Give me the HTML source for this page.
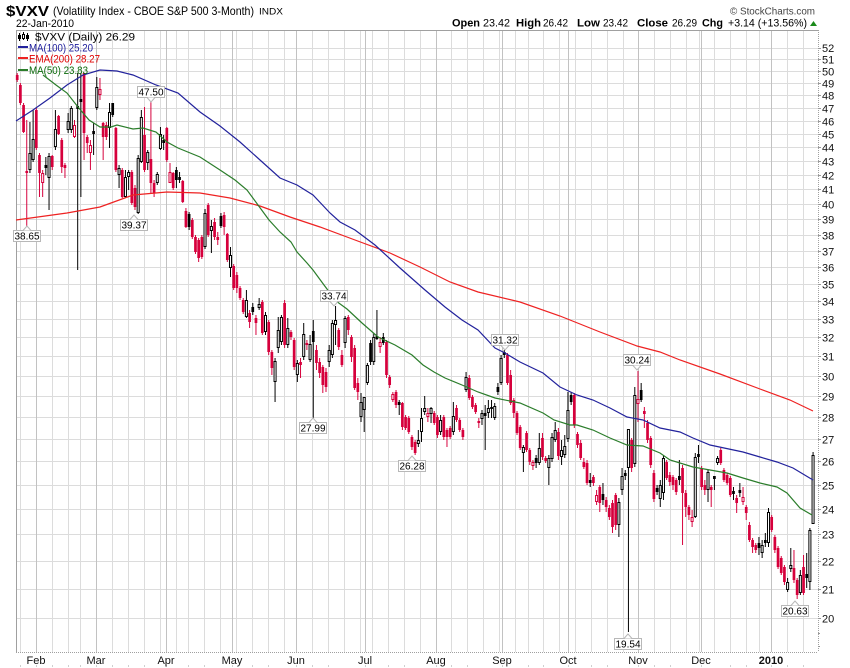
<!DOCTYPE html>
<html><head><meta charset="utf-8"><style>
html,body{margin:0;padding:0;background:#fff;}
svg{display:block;}
text{font-family:"Liberation Sans",Arial,sans-serif;}
</style></head><body>
<svg width="850" height="668" viewBox="0 0 850 668" xmlns="http://www.w3.org/2000/svg">
<rect width="850" height="668" fill="#fff"/>

<!-- horizontal grid -->
<path stroke="#dcdcdc" stroke-width="1" fill="none" d="M16 48.5H818M16 59.5H818M16 71.5H818M16 83.5H818M16 95.5H818M16 108.5H818M16 121.5H818M16 134.5H818M16 147.5H818M16 161.5H818M16 175.5H818M16 189.5H818M16 204.5H818M16 219.5H818M16 235.5H818M16 251.5H818M16 267.5H818M16 284.5H818M16 301.5H818M16 319.5H818M16 337.5H818M16 356.5H818M16 376.5H818M16 396.5H818M16 417.5H818M16 439.5H818M16 461.5H818M16 485.5H818M16 509.5H818M16 534.5H818M16 561.5H818M16 589.5H818M16 618.5H818"/>
<!-- weekly grid -->
<path stroke="#dcdcdc" stroke-width="1" fill="none" d="M20.5 30V652M52.5 30V652M68.5 30V652M80.5 30V652M112.5 30V652M128.5 30V652M144.5 30V652M160.5 30V652M176.5 30V652M188.5 30V652M204.5 30V652M220.5 30V652M236.5 30V652M252.5 30V652M268.5 30V652M284.5 30V652M312.5 30V652M328.5 30V652M344.5 30V652M360.5 30V652M372.5 30V652M388.5 30V652M404.5 30V652M420.5 30V652M451.5 30V652M467.5 30V652M483.5 30V652M499.5 30V652M515.5 30V652M528.5 30V652M543.5 30V652M559.5 30V652M575.5 30V652M591.5 30V652M607.5 30V652M623.5 30V652M654.5 30V652M670.5 30V652M686.5 30V652M699.5 30V652M714.5 30V652M730.5 30V652M746.5 30V652M759.5 30V652M787.5 30V652M803.5 30V652"/>
<!-- month grid -->
<path stroke="#c2c2c2" stroke-width="1" fill="none" d="M36.5 30V652M96.5 30V652M166.5 30V652M232.5 30V652M296.5 30V652M365.5 30V652M436.5 30V652M502.5 30V652M568.5 30V652M638.5 30V652M701.5 30V652M771.5 30V652"/>

<!-- frame -->
<path stroke="#a0a0a0" stroke-width="1" fill="none" d="M16.5 652V30.5H818"/>
<path stroke="#a0a0a0" stroke-width="1" fill="none" stroke-dasharray="1,1" d="M818.5 30V652M16 652.5H818"/>
<!-- right ticks -->
<path stroke="#999" stroke-width="1" fill="none" d="M818 48.5h3M818 59.5h3M818 71.5h3M818 83.5h3M818 95.5h3M818 108.5h3M818 121.5h3M818 134.5h3M818 147.5h3M818 161.5h3M818 175.5h3M818 189.5h3M818 204.5h3M818 219.5h3M818 235.5h3M818 251.5h3M818 267.5h3M818 284.5h3M818 301.5h3M818 319.5h3M818 337.5h3M818 356.5h3M818 376.5h3M818 396.5h3M818 417.5h3M818 439.5h3M818 461.5h3M818 485.5h3M818 509.5h3M818 534.5h3M818 561.5h3M818 589.5h3M818 618.5h3M818 633.5h2M818 646.5h2"/>
<!-- bottom small marks -->
<path stroke="#cfcfcf" stroke-width="1" fill="none" d="M20.5 665v2M36.5 665v2M52.5 665v2M68.5 665v2M80.5 665v2M96.5 665v2M112.5 665v2M128.5 665v2M144.5 665v2M166.5 665v2M188.5 665v2M204.5 665v2M232.5 665v2M252.5 665v2M268.5 665v2M296.5 665v2M312.5 665v2M328.5 665v2M365.5 665v2M388.5 665v2M404.5 665v2M436.5 665v2M451.5 665v2M467.5 665v2M502.5 665v2M528.5 665v2M543.5 665v2M568.5 665v2M591.5 665v2M607.5 665v2M638.5 665v2M654.5 665v2M670.5 665v2M701.5 665v2M730.5 665v2M746.5 665v2M771.5 665v2M787.5 665v2M803.5 665v2"/>

<!-- candles -->
<g transform="translate(17.2 0) scale(3.1835 1)" fill="none" stroke-linecap="butt">
<path stroke="#d6003c" stroke-width="0.31" d="M0 73V82M1 83V105M2 103V133M3 120V227M6 108V150M7 153V197M8 170V197M11 155V170M13 115V135M14 138V173M15 163V178M18 120V138M21 73V160M22 135V153M23 140V170M26 78V100M27 122V160M28 122V140M31 127V172M33 168V198M36 170V205M37 185V210M40 107V172M42 102V193M43 180V197M47 127V162M48 163V183M49 172V190M52 180V203M53 208V228M55 218V239M56 235V254M57 238V262M58 235V259M60 203V237M62 218V240M63 232V245M65 212V235M66 233V262M68 264V290M69 272V293M70 286V300M71 298V314M73 310V328M75 315V335M77 300V335M79 320V355M80 350V375M84 300V348M86 330V340M87 338V370M89 358V378M91 340V350M94 345V370M95 358V378M96 365V393M97 368V392M101 328V350M102 350V367M104 315V335M105 335V362M106 345V390M107 378V400M114 337V353M116 340V378M117 375V388M118 392V402M119 390V408M121 402V430M122 415V430M123 416V434M124 435V450M125 440V455M129 408V422M131 411V425M132 415V438M134 415V440M135 428V447M136 426V439M138 405V422M139 418V432M140 428V440M142 375V400M143 395V409M144 403V414M145 418V428M154 353V385M155 370V405M156 398V418M157 411V435M158 425V450M160 431V452M161 448V465M162 460V470M165 433V460M166 456V463M170 428V460M175 393V428M176 432V448M177 440V460M178 458V469M179 460V485M181 475V486M182 490V505M183 485V512M185 497V512M186 505V520M187 500V533M188 493V530M193 438V472M195 371V422M197 407V428M198 420V443M199 436V468M200 470V502M204 460V480M205 472V486M206 475V490M207 478V495M209 465V545M210 490V517M211 505V520M212 510V527M215 466V490M216 480V495M218 485V507M221 448V465M222 468V482M223 473V485M224 476V497M226 495V513M228 487V505M229 505V520M230 522V542M231 538V553M232 543V553M237 515V532M238 535V553M239 546V569M240 556V575M241 565V585M244 550V583M245 578V599M247 555V595"/>
<path stroke="#000" stroke-width="0.31" d="M4 122V173M5 110V162M9 157V175M10 153V210M12 110V150M16 113V133M17 106V133M19 73V270M20 73V197M24 123V155M25 77V110M29 103V148M30 103V117M32 165V188M34 170V198M35 170V190M38 155V214M39 110V163M41 150V170M44 172V185M45 127V150M46 135V150M50 167V188M51 172V183M54 212V230M59 209V249M61 220V253M64 213V228M67 247V277M72 290V318M74 303V315M76 298V310M78 312V335M81 358V402M82 317V353M83 315V345M85 318V348M88 360V382M90 323V360M92 335V362M93 320V418M98 345V367M99 320V358M100 306V345M103 316V348M108 393V422M109 397V432M110 363V385M111 340V365M112 333V365M113 310V340M115 333V345M120 400V415M126 430V447M127 408V442M128 396V415M130 407V423M133 415V435M137 402V435M141 372V392M146 410V425M147 405V450M148 400V418M149 400V418M150 403V420M151 383V395M152 355V385M153 350V358M159 445V472M163 455V468M164 433V465M167 455V485M168 433V462M169 422V442M171 440V465M172 435V458M173 392V442M174 392V405M180 473V487M184 483V505M189 498V537M190 468V495M191 470V480M192 429V632M194 387V467M196 383V402M201 485V495M202 480V507M203 455V500M208 460V485M213 453V518M214 445V463M217 470V502M219 476V490M220 456V465M225 487V500M227 483V497M233 537V555M234 540V558M235 533V547M236 508V547M242 578V592M243 548V572M246 570V595M248 553V588M249 528V590M250 452V524"/>
<path stroke="#d6003c" stroke-width="0.85" d="M0 75V80M1 85V103M2 105V132M3 171V173M6 110V148M7 155V173M11 156V167M13 116V134M14 140V167M15 165V168M21 73V133M22 137V143M27 123V137M28 125V137M31 128V170M33 170V197M36 172V203M37 188V207M40 135V170M42 159V183M43 183V193M47 128V160M49 173V188M52 181V202M53 211V227M55 220V237M56 237V252M57 240V258M58 237V257M60 205V235M62 222V237M63 237V240M65 215V227M66 234V260M68 266V288M69 275V288M70 288V298M71 300V312M73 313V322M75 318V323M77 302V333M79 322V352M80 352V368M84 303V345M86 332V337M87 340V367M89 362V365M91 343V345M94 350V363M95 362V373M96 367V385M97 372V387M101 330V347M102 355V365M104 317V330M105 337V357M106 348V388M107 383V392M116 342V375M117 377V385M119 392V405M121 403V427M122 417V428M123 418V432M124 437V447M125 442V453M131 413V423M132 417V435M134 417V437M135 430V437M136 428V437M138 408V420M139 420V430M140 430V437M142 378V398M143 397V407M144 405V412M145 421V423M154 355V383M155 375V403M156 400V413M157 413V433M158 427V448M160 433V450M161 450V462M165 438V457M166 458V461M170 432V456M175 395V425M176 434V445M177 443V458M178 462V467M179 463V483M181 477V483M183 487V503M185 500V507M186 508V517M187 503V527M188 495V525M193 440V468M197 411V414M198 423V440M199 438V465M200 473V499M204 462V478M205 475V482M206 477V485M207 480V492M209 468V493M210 493V507M211 507V515M215 469V487M216 485V490M218 487V490M221 450V463M222 470V480M223 475V483M224 478V495M226 498V503M229 507V513M230 525V540M231 540V547M232 545V550M237 517V530M238 537V550M239 548V567M240 558V573M241 567V582M244 568V580M245 580V595M247 567V593"/>
<path stroke="#000" stroke-width="0.85" d="M9 165V168M19 106V109M20 99V102M24 131V134M30 103V115M46 140V143M50 170V180M51 177V180M54 214V227M64 216V226M74 307V312M93 331V342M111 343V362M113 336V339M115 337V343M120 402V405M147 413V416M149 407V409M151 387V392M153 352V355M163 458V463M174 395V402M180 480V483M184 494V500M191 473V476M196 390V400M201 488V492M208 476V480M214 454V457M219 476V479M225 491V494M227 490V493M233 543V548M235 540V543M248 574V578"/>
<path stroke="#d6003c" stroke-width="0.95" d="M8 173V183M18 125V137M23 145V153M26 89V95M48 172V183M114 342V347M118 394V400M129 413V417M162 462V466M182 495V502M195 399V404M212 517V522M228 497V502"/>
<path stroke="#000" stroke-width="0.95" d="M4 153V170M5 139V160M10 156V178M12 129V147M16 121V130M17 108V130M25 87V108M29 112V128M32 168V175M34 177V197M35 172V177M38 158V213M39 117V162M41 152V163M44 174V183M45 134V149M59 213V247M61 226V231M67 255V268M72 300V317M76 304V308M78 315V332M81 361V382M82 330V348M83 317V342M85 328V345M88 363V375M90 334V357M92 344V360M98 350V362M99 323V355M100 320V325M103 318V343M108 402V417M109 397V410M110 365V383M112 337V362M126 440V444M127 418V432M128 408V412M130 408V414M133 420V432M137 416V432M141 377V390M146 413V419M148 408V413M150 406V418M152 358V383M159 447V453M164 448V463M167 458V468M168 437V459M169 430V440M171 450V457M172 446V455M173 410V439M189 502V525M190 476V490M192 429V468M194 395V464M202 485V499M203 458V493M213 457V517M217 472V490M220 458V463M234 545V553M236 512V543M242 582V590M243 565V569M246 575V593M249 530V582M250 455V524"/>
<path stroke="#fff" stroke-width="0.33" d="M8 174V182M18 126V136M23 146V152M26 90V94M48 173V182M114 343V346M118 395V399M129 414V416M162 463V465M182 496V501M195 400V403M212 518V521M228 498V501M4 154V169M5 140V159M10 157V177M12 130V146M16 122V129M17 109V129M25 88V107M29 113V127M32 169V174M34 178V196M35 173V176M38 159V212M39 118V161M41 153V162M44 175V182M45 135V148M59 214V246M61 227V230M67 256V267M72 301V316M76 305V307M78 316V331M81 362V381M82 331V347M83 318V341M85 329V344M88 364V374M90 335V356M92 345V359M98 351V361M99 324V354M100 321V324M103 319V342M108 403V416M109 398V409M110 366V382M112 338V361M126 441V443M127 419V431M128 409V411M130 409V413M133 421V431M137 417V431M141 378V389M146 414V418M148 409V412M150 407V417M152 359V382M159 448V452M164 449V462M167 459V467M168 438V458M169 431V439M171 451V456M172 447V454M173 411V438M189 503V524M190 477V489M192 430V467M194 396V463M202 486V498M203 459V492M213 458V516M217 473V489M220 459V462M234 546V552M236 513V542M242 583V589M243 566V568M246 576V592M249 531V581M250 456V523"/>
</g>

<!-- moving averages -->
<polyline fill="none" stroke="#ee2222" stroke-width="1.2" points="16,220 67,213 100,207 133,195 167,192 200,193 230,198 260,206 290,217 320,227 355,240 390,253 420,267 450,282 478,292 520,302 560,316 600,332 637,346 660,352 680,360 720,374 760,389 790,400 813,411"/>
<polyline fill="none" stroke="#22229c" stroke-width="1.2" points="16,121 33,110 50,98 67,85 83,75 100,70 117,71 133,75 156,85 178,93 200,112 220,126 240,142 260,160 280,178 297,185 313,195 330,213 340,222 355,230 375,245 400,268 425,290 445,307 462,320 478,330 495,348 505,353 520,362 543,373 560,387 577,395 593,400 610,408 627,417 643,420 660,428 680,432 693,438 710,445 743,452 760,457 777,462 793,468 813,480"/>
<polyline fill="none" stroke="#2b7d2b" stroke-width="1.2" points="43,75 56,85 67,93 78,107 89,120 100,127 111,127 117,125 133,129 143,128 156,132 167,142 178,148 200,157 220,170 235,180 247,190 258,205 269,220 280,232 291,242 297,252 307,263 313,270 324,285 336,301 347,309 362,323 378,337 395,345 412,355 423,365 434,372 445,378 462,385 478,392 495,398 520,403 543,413 554,420 570,425 577,425 593,430 610,438 627,445 643,446 660,453 670,460 693,467 710,470 727,473 743,478 760,483 777,487 787,493 800,508 812,515"/>

<!-- price labels boxes -->
<g fill="#fff" stroke="#b8b8b8" stroke-width="1">
<rect x="137.5" y="86.5" width="27" height="11"/><path d="M147 97.5L151 102L155 97.5"/>
<rect x="13.5" y="230.5" width="27" height="11"/><path d="M23 230.5L27 226L31 230.5"/>
<rect x="120.5" y="219.5" width="27" height="11"/><path d="M130 219.5L134 215L138 219.5"/>
<rect x="320.5" y="290.5" width="27" height="11"/><path d="M330 301.5L334 306L338 301.5"/>
<rect x="299.5" y="422.5" width="27" height="11"/><path d="M309 422.5L313 418L317 422.5"/>
<rect x="398.5" y="460.5" width="27" height="11"/><path d="M408 460.5L412 456L416 460.5"/>
<rect x="491.5" y="334.5" width="27" height="11"/><path d="M501 345.5L505 350L509 345.5"/>
<rect x="623.5" y="354.5" width="27" height="11"/><path d="M633 365.5L637 370L641 365.5"/>
<rect x="614.5" y="638.5" width="27" height="11"/><path d="M624 638.5L628 634L632 638.5"/>
<rect x="781.5" y="605.5" width="27" height="11"/><path d="M791 605.5L795 601L799 605.5"/>
</g>
<g font-size="10" text-anchor="middle" fill="#000">
<text x="151" y="95.5">47.50</text>
<text x="27" y="239.5">38.65</text>
<text x="134" y="228.5">39.37</text>
<text x="334" y="299.5">33.74</text>
<text x="313" y="431.5">27.99</text>
<text x="412" y="469.5">26.28</text>
<text x="505" y="343.5">31.32</text>
<text x="637" y="363.5">30.24</text>
<text x="628" y="647.5">19.54</text>
<text x="795" y="614.5">20.63</text>
</g>

<!-- legend -->
<path stroke="#000" stroke-width="1" fill="none" d="M19.5 33V41M23.5 32V40M27.5 33V41"/>
<rect x="18" y="35" width="3" height="4" fill="#000"/>
<rect x="22.5" y="34.5" width="2" height="4" fill="#fff" stroke="#000"/>
<rect x="26" y="35" width="3" height="4" fill="#000"/>
<rect x="18" y="46" width="10" height="2" fill="#22229c"/>
<rect x="18" y="57" width="10" height="2" fill="#ee2222"/>
<rect x="18" y="69" width="10" height="2" fill="#2b7d2b"/>
<g font-size="11">
<text x="35" y="40.5" fill="#000" textLength="100" lengthAdjust="spacingAndGlyphs">$VXV (Daily) 26.29</text>
<text x="29" y="51.5" fill="#1a1a9a" textLength="64" lengthAdjust="spacingAndGlyphs">MA(100) 25.20</text>
<text x="29" y="62.5" fill="#e00000" textLength="71" lengthAdjust="spacingAndGlyphs">EMA(200) 28.27</text>
<text x="29" y="74" fill="#0a6a0a" textLength="59" lengthAdjust="spacingAndGlyphs">MA(50) 23.83</text>
</g>

<!-- header -->
<text x="6" y="16" font-size="15" font-weight="bold" fill="#000" textLength="43" lengthAdjust="spacingAndGlyphs">$VXV</text>
<text x="53" y="15" font-size="12" fill="#000" textLength="201" lengthAdjust="spacingAndGlyphs">(Volatility Index - CBOE S&amp;P 500 3-Month)</text>
<text x="259" y="14.5" font-size="9" fill="#000" textLength="24" lengthAdjust="spacingAndGlyphs">INDX</text>
<text x="16" y="27" font-size="11" fill="#000" textLength="58" lengthAdjust="spacingAndGlyphs">22-Jan-2010</text>
<text x="730" y="14.5" font-size="10" fill="#444" textLength="85" lengthAdjust="spacingAndGlyphs">© StockCharts.com</text>
<g font-size="11" fill="#000">
<text x="452" y="26.5" font-weight="bold" textLength="28" lengthAdjust="spacingAndGlyphs">Open</text>
<text x="483" y="26.5" textLength="27" lengthAdjust="spacingAndGlyphs">23.42</text>
<text x="516" y="26.5" font-weight="bold" textLength="25" lengthAdjust="spacingAndGlyphs">High</text>
<text x="543" y="26.5" textLength="25" lengthAdjust="spacingAndGlyphs">26.42</text>
<text x="577" y="26.5" font-weight="bold" textLength="23" lengthAdjust="spacingAndGlyphs">Low</text>
<text x="603" y="26.5" textLength="25" lengthAdjust="spacingAndGlyphs">23.42</text>
<text x="637" y="26.5" font-weight="bold" textLength="31" lengthAdjust="spacingAndGlyphs">Close</text>
<text x="672" y="26.5" textLength="25" lengthAdjust="spacingAndGlyphs">26.29</text>
<text x="702" y="26.5" font-weight="bold" textLength="21" lengthAdjust="spacingAndGlyphs">Chg</text>
<text x="728" y="26.5" textLength="79" lengthAdjust="spacingAndGlyphs">+3.14 (+13.56%)</text>
</g>
<path d="M810 26L813.5 21L817 26Z" fill="#1a8a1a"/>

<!-- right axis labels -->
<g font-size="11" fill="#111">
<text x="822" y="52">52</text><text x="822" y="63.5">51</text><text x="822" y="75.5">50</text><text x="822" y="87.5">49</text><text x="822" y="99.5">48</text><text x="822" y="112.5">47</text><text x="822" y="125.5">46</text><text x="822" y="138.5">45</text><text x="822" y="151.5">44</text><text x="822" y="165.5">43</text><text x="822" y="179.5">42</text><text x="822" y="193.5">41</text><text x="822" y="208.5">40</text><text x="822" y="223.5">39</text><text x="822" y="239.5">38</text><text x="822" y="255.5">37</text><text x="822" y="271.5">36</text><text x="822" y="288.5">35</text><text x="822" y="305.5">34</text><text x="822" y="323.5">33</text><text x="822" y="341.5">32</text><text x="822" y="360.5">31</text><text x="822" y="380.5">30</text><text x="822" y="400.5">29</text><text x="822" y="421.5">28</text><text x="822" y="443.5">27</text><text x="822" y="465.5">26</text><text x="822" y="489.5">25</text><text x="822" y="513.5">24</text><text x="822" y="538.5">23</text><text x="822" y="565.5">22</text><text x="822" y="593.5">21</text><text x="822" y="622.5">20</text>
</g>

<!-- month labels -->
<g font-size="11" fill="#111" text-anchor="middle">
<text x="36" y="664">Feb</text>
<text x="96" y="664">Mar</text>
<text x="166" y="664">Apr</text>
<text x="232" y="664">May</text>
<text x="296" y="664">Jun</text>
<text x="365" y="664">Jul</text>
<text x="436" y="664">Aug</text>
<text x="502" y="664">Sep</text>
<text x="568" y="664">Oct</text>
<text x="638" y="664">Nov</text>
<text x="701" y="664">Dec</text>
<text x="771" y="664" font-weight="bold">2010</text>
</g>
</svg>
</body></html>
